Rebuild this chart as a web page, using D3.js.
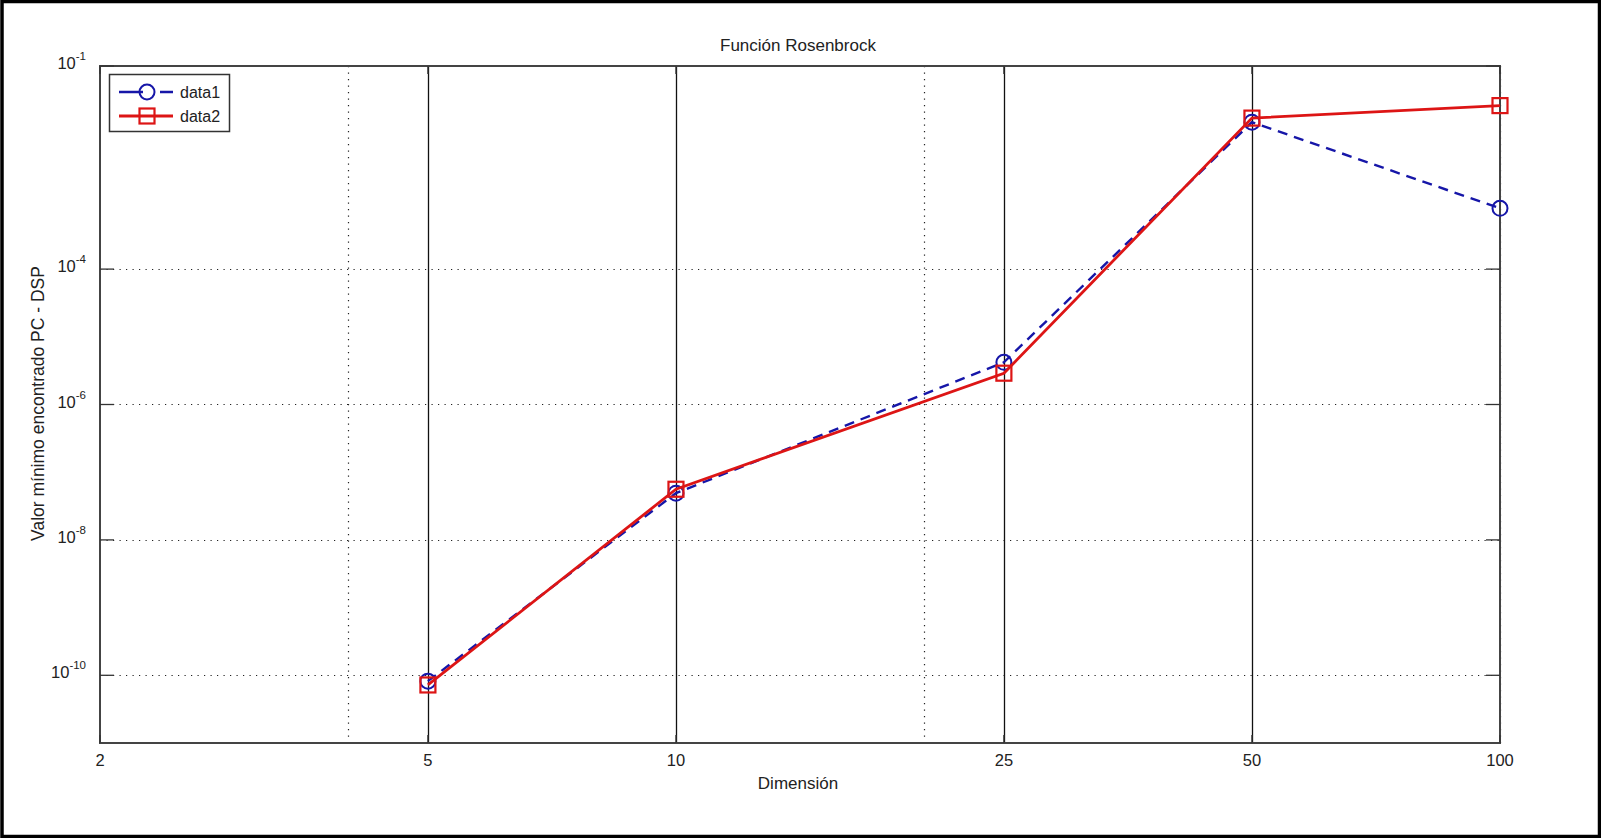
<!DOCTYPE html>
<html>
<head>
<meta charset="utf-8">
<script src="https://cdn.jsdelivr.net/npm/d3@7"></script>
<style>
  html, body { margin: 0; padding: 0; background: #fff; }
  svg { display: block; font-family: "Liberation Sans", Arial, sans-serif; }
</style>
</head>
<body>
<svg id="chart" width="1601" height="838"></svg>
<script>
// Problem dimensions tested and best value found for each run
const dimensions = [5, 10, 25, 50, 100];
const data1 = [8.2e-11, 4.9e-8, 4.2e-6, 1.48e-2, 7.9e-4];
const data2 = [7.2e-11, 5.6e-8, 2.9e-6, 1.7e-2, 2.6e-2];

const xTicks = [2, 5, 10, 25, 50, 100];
const yTickExponents = [-1, -4, -6, -8, -10];
const solidGridX = [5, 10, 25, 50];
const dottedGridX = [4, 20, 100];

const titleText = "Función Rosenbrock";
const xLabelText = "Dimensión";
const yLabelText = "Valor mínimo encontrado PC - DSP";
const seriesNames = ["data1", "data2"];

const svg = d3.select("#chart");
const W = 1601, H = 838;
const plot = { left: 100, right: 1500, top: 66, bottom: 743 };

const x = d3.scaleLog().domain([2, 100]).range([plot.left, plot.right]);
const y = d3.scaleLog().domain([1e-11, 1e-1]).range([plot.bottom, plot.top]);

// outer frame
svg.append("rect").attr("x", 2).attr("y", 1.5).attr("width", W - 3.5).attr("height", H - 3)
  .attr("fill", "#fff").attr("stroke", "#000").attr("stroke-width", 3.5);

const g = svg.append("g");

// horizontal dotted grid
g.selectAll(".hgrid").data(yTickExponents.filter(e => e !== -1)).enter().append("line")
  .attr("x1", plot.left).attr("x2", plot.right)
  .attr("y1", e => Math.round(y(Math.pow(10, e))) + 0.5)
  .attr("y2", e => Math.round(y(Math.pow(10, e))) + 0.5)
  .attr("stroke", "#222").attr("stroke-width", 1.2).attr("stroke-dasharray", "1.2,5.3");

// vertical dotted grid
g.selectAll(".vgrid").data(dottedGridX).enter().append("line")
  .attr("x1", d => Math.round(x(d)) + 0.5).attr("x2", d => Math.round(x(d)) + 0.5)
  .attr("y1", plot.top).attr("y2", plot.bottom)
  .attr("stroke", "#222").attr("stroke-width", 1.2).attr("stroke-dasharray", "1.2,5.3");

// vertical solid reference lines
g.selectAll(".vsolid").data(solidGridX).enter().append("line")
  .attr("x1", d => Math.round(x(d)) + 0.5).attr("x2", d => Math.round(x(d)) + 0.5)
  .attr("y1", plot.top).attr("y2", plot.bottom)
  .attr("stroke", "#111").attr("stroke-width", 1.3);

// axes box
g.append("rect").attr("x", plot.left).attr("y", plot.top)
  .attr("width", plot.right - plot.left).attr("height", plot.bottom - plot.top)
  .attr("fill", "none").attr("stroke", "#444").attr("stroke-width", 2);

// tick marks
const yTickLen = 14, xTickLen = 8;
yTickExponents.forEach(e => {
  const yy = y(Math.pow(10, e));
  g.append("line").attr("x1", plot.left).attr("x2", plot.left + yTickLen).attr("y1", yy).attr("y2", yy)
    .attr("stroke", "#333").attr("stroke-width", 1.3);
  g.append("line").attr("x1", plot.right).attr("x2", plot.right - yTickLen).attr("y1", yy).attr("y2", yy)
    .attr("stroke", "#333").attr("stroke-width", 1.3);
});
xTicks.forEach(t => {
  const xx = x(t);
  g.append("line").attr("x1", xx).attr("x2", xx).attr("y1", plot.bottom).attr("y2", plot.bottom - xTickLen)
    .attr("stroke", "#333").attr("stroke-width", 1.3);
  g.append("line").attr("x1", xx).attr("x2", xx).attr("y1", plot.top).attr("y2", plot.top + xTickLen)
    .attr("stroke", "#333").attr("stroke-width", 1.3);
});

// x tick labels
g.selectAll(".xlab").data(xTicks).enter().append("text")
  .attr("x", d => x(d)).attr("y", plot.bottom + 23)
  .attr("text-anchor", "middle").attr("font-size", 16.5).attr("fill", "#222")
  .text(d => d);

// y tick labels: 10 with superscript exponent
yTickExponents.forEach(e => {
  const yy = y(Math.pow(10, e));
  const t = g.append("text").attr("x", plot.left - 14).attr("y", yy + 3)
    .attr("text-anchor", "end").attr("font-size", 16.5).attr("fill", "#222");
  t.append("tspan").text("10");
  t.append("tspan").attr("dy", -9).attr("font-size", 11.5).text(String(e));
});

// title and axis labels
svg.append("text").attr("x", (plot.left + plot.right) / 2 - 2).attr("y", 51)
  .attr("text-anchor", "middle").attr("font-size", 17).attr("fill", "#222").text(titleText);
svg.append("text").attr("x", (plot.left + plot.right) / 2 - 2).attr("y", 789)
  .attr("text-anchor", "middle").attr("font-size", 17).attr("fill", "#222").text(xLabelText);
svg.append("text").attr("transform", `translate(44,${(plot.top + plot.bottom) / 2 - 1}) rotate(-90)`)
  .attr("text-anchor", "middle").attr("font-size", 17.5).attr("fill", "#222").text(yLabelText);

// series
const blue = "#1616a8", red = "#dd1515";
const line = d3.line().x(d => x(d[0])).y(d => y(d[1]));
const pts1 = dimensions.map((d, i) => [d, data1[i]]);
const pts2 = dimensions.map((d, i) => [d, data2[i]]);

g.append("path").datum(pts1).attr("d", line).attr("fill", "none")
  .attr("stroke", blue).attr("stroke-width", 2.4).attr("stroke-dasharray", "10,7");
g.selectAll(".m1").data(pts1).enter().append("circle")
  .attr("cx", d => x(d[0])).attr("cy", d => y(d[1])).attr("r", 7.5)
  .attr("fill", "none").attr("stroke", blue).attr("stroke-width", 2);

g.append("path").datum(pts2).attr("d", line).attr("fill", "none")
  .attr("stroke", red).attr("stroke-width", 2.8);
g.selectAll(".m2").data(pts2).enter().append("rect")
  .attr("x", d => x(d[0]) - 7.5).attr("y", d => y(d[1]) - 7.5)
  .attr("width", 15).attr("height", 15)
  .attr("fill", "none").attr("stroke", red).attr("stroke-width", 2.2);

// legend
const lg = svg.append("g");
lg.append("rect").attr("x", 109.5).attr("y", 74.5).attr("width", 120).attr("height", 57)
  .attr("fill", "#fff").attr("stroke", "#333").attr("stroke-width", 1.5);
const legendRows = [
  { name: seriesNames[0], color: blue, dash: "24,17,13", marker: "circle", y: 92 },
  { name: seriesNames[1], color: red, dash: null, marker: "square", y: 116 }
];
legendRows.forEach(r => {
  lg.append("line").attr("x1", 119).attr("x2", 173).attr("y1", r.y).attr("y2", r.y)
    .attr("stroke", r.color).attr("stroke-width", r.dash ? 2.4 : 2.8)
    .attr("stroke-dasharray", r.dash);
  if (r.marker === "circle") {
    lg.append("circle").attr("cx", 147).attr("cy", r.y).attr("r", 7.5)
      .attr("fill", "none").attr("stroke", r.color).attr("stroke-width", 2);
  } else {
    lg.append("rect").attr("x", 139.5).attr("y", r.y - 7.5).attr("width", 15).attr("height", 15)
      .attr("fill", "none").attr("stroke", r.color).attr("stroke-width", 2.2);
  }
  lg.append("text").attr("x", 180).attr("y", r.y + 5.5).attr("font-size", 16).attr("fill", "#222").text(r.name);
});
</script>
</body>
</html>
